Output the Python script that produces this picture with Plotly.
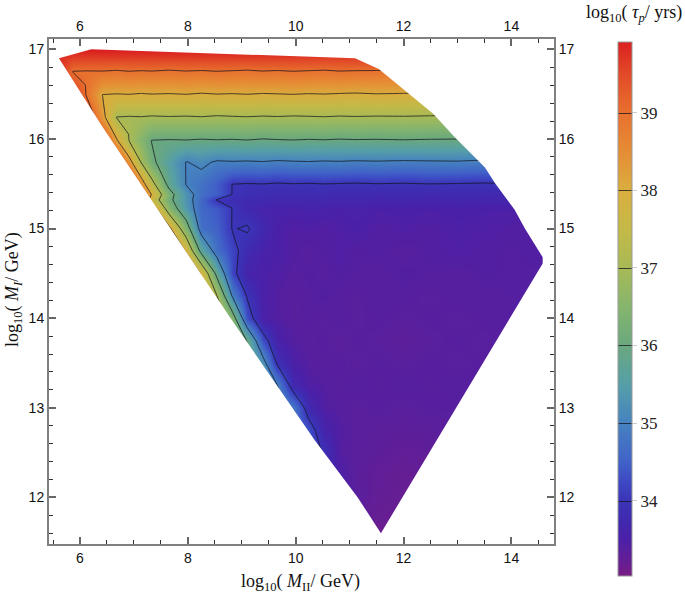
import plotly.graph_objects as go

# axis ranges of the frame
x_range = [5.425, 14.79]
y_range = [11.48, 17.115]
z_min = 33.03
z_max = 39.91

# grid the lifetime was read on
x_grid = [5.5, 5.87, 6.1, 6.42, 6.68, 6.9, 7.13, 7.33, 7.65, 7.97, 8.25, 8.54, 8.83, 9.1,
          9.39, 9.66, 9.95, 10.24, 10.53, 10.81, 11.1, 11.5, 12, 12.5, 13, 13.5, 14, 14.8]
y_grid = [17.1, 16.9, 16.75, 16.49, 16.24, 15.98, 15.74, 15.49, 15.38, 15.32, 15.23, 15.0, 14.75, 14.5,
          14.25, 14.0, 13.75, 13.5, 13.25, 13.0, 12.75, 12.5, 12.25, 12.0, 11.5]

# log10(tau_p), one row per y_grid entry, top row first
tau_rows = [
    [40.3, 40.3, 40.3, 40.3, 40.3, 40.3, 40.3, 40.3, 40.3, 40.3, 40.3, 40.3, 40.3, 40.3,
     40.3, 40.3, 40.3, 40.3, 40.3, 40.3, 40.3, 40.3, 40.3, 40.3, 40.3, 40.3, 40.3, 40.3],
    [39.8, 39.6, 39.6, 39.6, 39.6, 39.6, 39.6, 39.6, 39.6, 39.6, 39.6, 39.6, 39.6, 39.6,
     39.6, 39.6, 39.6, 39.6, 39.6, 39.6, 39.6, 39.6, 39.6, 39.6, 39.6, 39.6, 39.6, 39.6],
    [40.2, 38.98, 38.96, 38.97, 38.93, 38.98, 38.95, 38.97, 38.92, 38.97, 38.94, 38.98, 38.95, 38.92,
     38.97, 38.94, 38.98, 38.95, 38.92, 38.97, 38.95, 38.94, 38.92, 38.9, 38.88, 38.88, 38.88, 38.88],
    [40.9, 39.8, 39.03, 37.98, 37.95, 37.97, 37.93, 37.96, 37.94, 37.97, 37.92, 37.96, 37.94, 37.97,
     37.93, 37.95, 37.97, 37.94, 37.96, 37.93, 37.91, 37.95, 37.93, 37.9, 37.9, 37.9, 37.9, 37.9],
    [41.2, 40.6, 39.9, 38.25, 36.98, 36.95, 36.97, 36.93, 36.96, 36.94, 36.97, 36.92, 36.95, 36.97,
     36.94, 36.96, 36.93, 36.95, 36.97, 36.94, 36.96, 36.94, 36.95, 36.93, 36.9, 36.9, 36.9, 36.9],
    [41.6, 41.2, 40.6, 39.6, 38.1, 37.02, 36.5, 35.98, 35.95, 35.97, 35.93, 35.96, 35.94, 35.97,
     35.92, 35.95, 35.97, 35.94, 35.96, 35.93, 35.95, 35.94, 35.96, 35.94, 35.93, 35.9, 35.9, 35.9],
    [42.0, 41.8, 41.4, 40.8, 39.6, 38.4, 37.0, 36.15, 35.55, 34.98, 35.12, 34.93, 34.96, 34.94,
     34.97, 34.92, 34.95, 34.97, 34.94, 34.96, 34.93, 34.95, 34.92, 34.94, 34.95, 34.9, 34.9, 34.9],
    [42.5, 42.3, 42.0, 41.5, 41.0, 40.0, 38.5, 37.3, 35.8, 34.98, 34.75, 34.45, 33.98, 33.95,
     33.97, 33.93, 33.96, 33.94, 33.97, 33.95, 33.93, 33.96, 33.94, 33.97, 33.95, 33.93, 33.95, 33.9],
    [42.5, 42.4, 42.2, 41.8, 41.3, 40.5, 39.3, 37.95, 36.3, 35.3, 34.7, 34.45, 33.98, 33.85,
     33.8, 33.78, 33.75, 33.78, 33.76, 33.74, 33.75, 33.72, 33.74, 33.72, 33.74, 33.72, 33.72, 33.7],
    [42.5, 42.4, 42.2, 41.8, 41.3, 40.5, 39.1, 37.6, 36.2, 35.3, 34.6, 33.97, 33.82, 33.75,
     33.72, 33.7, 33.68, 33.7, 33.68, 33.66, 33.68, 33.64, 33.66, 33.64, 33.66, 33.64, 33.64, 33.62],
    [42.5, 42.5, 42.3, 42.0, 41.5, 41.0, 40.0, 38.5, 36.5, 35.4, 34.6, 34.4, 33.98, 33.7,
     33.6, 33.58, 33.55, 33.6, 33.55, 33.52, 33.55, 33.5, 33.52, 33.5, 33.52, 33.5, 33.5, 33.5],
    [42.5, 42.5, 42.3, 42.0, 41.5, 41.0, 40.3, 39.7, 38.2, 36.4, 34.7, 34.5, 33.97, 34.06,
     33.7, 33.5, 33.42, 33.45, 33.42, 33.45, 33.5, 33.42, 33.45, 33.42, 33.48, 33.45, 33.42, 33.45],
    [42.0, 42.0, 42.0, 42.0, 41.5, 41.0, 40.5, 40.0, 39.2, 37.9, 35.75, 34.7, 34.17, 33.75,
     33.55, 33.5, 33.42, 33.38, 33.42, 33.45, 33.4, 33.42, 33.38, 33.42, 33.45, 33.42, 33.4, 33.45],
    [41.5, 41.5, 41.5, 41.5, 41.5, 41.2, 41.0, 40.6, 40.0, 39.0, 37.9, 35.75, 34.15, 33.6,
     33.5, 33.45, 33.38, 33.42, 33.38, 33.42, 33.4, 33.38, 33.42, 33.4, 33.38, 33.42, 33.4, 33.4],
    [41.0, 41.0, 41.0, 41.0, 41.0, 41.0, 41.0, 40.8, 40.5, 39.8, 38.6, 37.0, 34.9, 33.95,
     33.5, 33.4, 33.35, 33.4, 33.42, 33.38, 33.35, 33.4, 33.38, 33.35, 33.4, 33.38, 33.4, 33.4],
    [40.5, 40.5, 40.5, 40.5, 40.5, 40.5, 40.5, 40.2, 39.8, 39.2, 38.5, 37.6, 36.4, 34.3,
     33.5, 33.42, 33.35, 33.38, 33.35, 33.4, 33.35, 33.38, 33.35, 33.38, 33.35, 33.38, 33.4, 33.4],
    [39.5, 39.5, 39.5, 39.5, 39.5, 39.5, 39.5, 39.5, 39.2, 39.0, 38.0, 37.4, 36.9, 35.95,
     34.25, 33.55, 33.4, 33.35, 33.38, 33.32, 33.38, 33.35, 33.3, 33.35, 33.38, 33.35, 33.4, 33.4],
    [38.5, 38.5, 38.5, 38.5, 38.5, 38.5, 38.5, 38.5, 38.2, 38.0, 37.6, 37.0, 36.8, 36.3,
     35.3, 33.9, 33.5, 33.38, 33.36, 33.38, 33.34, 33.38, 33.35, 33.38, 33.35, 33.38, 33.38, 33.4],
    [37.5, 37.5, 37.5, 37.5, 37.5, 37.5, 37.5, 37.5, 37.2, 37.0, 36.9, 36.7, 36.5, 36.0,
     35.8, 35.0, 33.7, 33.45, 33.4, 33.36, 33.4, 33.36, 33.4, 33.36, 33.4, 33.36, 33.38, 33.4],
    [36.5, 36.5, 36.5, 36.5, 36.5, 36.5, 36.5, 36.5, 36.2, 36.0, 36.0, 36.0, 36.0, 35.8,
     35.6, 35.2, 34.8, 33.7, 33.42, 33.38, 33.34, 33.38, 33.34, 33.38, 33.36, 33.38, 33.38, 33.35],
    [35.8, 35.8, 35.8, 35.8, 35.8, 35.8, 35.8, 35.8, 35.8, 35.8, 35.8, 35.8, 35.6, 35.4,
     35.2, 35.0, 34.8, 34.3, 33.6, 33.42, 33.34, 33.32, 33.3, 33.32, 33.34, 33.35, 33.35, 33.35],
    [35.0, 35.0, 35.0, 35.0, 35.0, 35.0, 35.0, 35.0, 35.0, 35.0, 35.0, 35.0, 35.0, 35.0,
     35.0, 34.8, 34.6, 34.5, 33.9, 33.4, 33.34, 33.3, 33.26, 33.28, 33.3, 33.3, 33.3, 33.3],
    [34.0, 34.0, 34.0, 34.0, 34.0, 34.0, 34.0, 34.0, 34.0, 34.0, 34.0, 34.0, 34.0, 34.0,
     33.9, 33.9, 33.9, 33.8, 33.7, 33.5, 33.32, 33.26, 33.22, 33.24, 33.25, 33.3, 33.3, 33.3],
    [33.7, 33.7, 33.7, 33.7, 33.7, 33.7, 33.7, 33.7, 33.7, 33.7, 33.7, 33.7, 33.7, 33.7,
     33.7, 33.7, 33.7, 33.6, 33.6, 33.5, 33.35, 33.25, 33.2, 33.2, 33.25, 33.3, 33.3, 33.3],
    [33.2, 33.2, 33.2, 33.2, 33.2, 33.2, 33.2, 33.2, 33.2, 33.2, 33.2, 33.2, 33.2, 33.2,
     33.2, 33.2, 33.2, 33.2, 33.2, 33.2, 33.2, 33.15, 33.15, 33.2, 33.2, 33.2, 33.2, 33.2],
]

# outline of the allowed region
boundary_x = [5.61, 6.21, 11.10, 11.54, 12.06, 12.55, 12.95, 13.38, 13.51, 13.69, 14.06, 14.25,
              14.58, 14.58, 11.58, 11.15, 10.35, 8.78, 7.16, 6.40]
boundary_y = [16.90, 17.0, 16.90, 16.78, 16.52, 16.28, 16.02, 15.76, 15.68, 15.51, 15.21, 15.0,
              14.68, 14.61, 11.60, 12.0, 12.64, 14.01, 15.46, 16.15]

# colours
bar_values = [33.03, 33.25, 33.5, 33.75, 34, 34.25, 34.5, 35, 35.5, 36, 36.5, 37, 37.5, 38, 38.5, 39, 39.5, 39.91]
bar_colors = ["#781C86", "#621E96", "#4B20A8", "#402AB0", "#3B34B8", "#3E4AC4", "#4062C8", "#4682C0",
              "#569FA8", "#6AA87E", "#86B56E", "#A8BA55", "#C4B948", "#DAAE3E", "#E68C35", "#E8702E",
              "#E24A28", "#DB2020"]
colorscale = [[(v - z_min) / (z_max - z_min), c] for v, c in zip(bar_values, bar_colors)]

fig = go.Figure()

fig.add_trace(go.Contour(
    x=x_grid,
    y=y_grid[::-1],
    z=tau_rows[::-1],
    zmin=z_min,
    zmax=z_max,
    colorscale=colorscale,
    autocontour=False,
    contours=dict(start=34, end=39, size=1, coloring="heatmap"),
    line=dict(color="rgba(20,20,30,0.75)", width=1, smoothing=0),
    hoverinfo="skip",
    colorbar=dict(
        x=(618 - 49) / 505,
        xanchor="left",
        y=(544 - 576) / 505,
        yanchor="bottom",
        len=534,
        lenmode="pixels",
        thickness=14,
        xpad=0,
        ypad=0,
        outlinecolor="#999999",
        outlinewidth=1,
        tickvals=[34, 35, 36, 37, 38, 39],
        ticks="outside",
        ticklen=5,
        tickcolor="#cccccc",
        tickfont=dict(family="Liberation Serif", size=17, color="#222222"),
    ),
))

# white everywhere outside the allowed region
mask_x = [x_range[0], x_range[1], x_range[1], x_range[0], x_range[0]] + boundary_x + [boundary_x[0], x_range[0]]
mask_y = [y_range[0], y_range[0], y_range[1], y_range[1], y_range[0]] + boundary_y + [boundary_y[0], y_range[0]]
fig.add_trace(go.Scatter(
    x=mask_x, y=mask_y, mode="lines", fill="toself", fillcolor="white",
    line=dict(width=0), hoverinfo="skip", showlegend=False,
))

# only there so the top and right axes get drawn
fig.add_trace(go.Scatter(
    x=x_range, y=y_range, xaxis="x2", yaxis="y2", mode="markers",
    marker=dict(opacity=0), hoverinfo="skip", showlegend=False,
))

tick_font = dict(family="Liberation Sans", size=14, color="#111111")
x_style = dict(
    range=x_range, tick0=6, dtick=2, ticks="inside", ticklen=7, tickwidth=2, tickcolor="#666666",
    minor=dict(dtick=0.5, tick0=6, ticks="inside", ticklen=4, tickwidth=1, tickcolor="#333333"),
    showgrid=False, zeroline=False, showline=True, linecolor="#808080", linewidth=2, tickfont=tick_font,
    automargin=False,
)
y_style = dict(
    range=y_range, tick0=12, dtick=1, ticks="inside", ticklen=7, tickwidth=2, tickcolor="#666666",
    minor=dict(dtick=0.2, tick0=12, ticks="inside", ticklen=4, tickwidth=1, tickcolor="#333333"),
    showgrid=False, zeroline=False, showline=True, linecolor="#808080", linewidth=2, tickfont=tick_font,
    automargin=False,
)
title_font = dict(family="Liberation Serif", size=18, color="#111111")

fig.update_layout(
    width=685,
    height=612,
    autosize=False,
    margin=dict(l=49, r=131, t=39, b=68),
    paper_bgcolor="white",
    plot_bgcolor="white",
    showlegend=False,
    xaxis=x_style,
    yaxis=y_style,
    xaxis2=dict(x_style, overlaying="x", side="top", anchor="y"),
    yaxis2=dict(y_style, overlaying="y", side="right", anchor="x"),
    annotations=[
        dict(text="log<sub>10</sub>( <i>M</i><sub>II</sub>/ GeV)", xref="paper", yref="paper",
             x=(300 - 49) / 505, y=(544 - 582) / 505, xanchor="center", yanchor="middle",
             showarrow=False, font=title_font),
        dict(text="log<sub>10</sub>( <i>M<sub>I</sub></i>/ GeV)", xref="paper", yref="paper",
             x=(13 - 49) / 505, y=(544 - 290) / 505, xanchor="center", yanchor="middle",
             showarrow=False, textangle=-90, font=title_font),
        dict(text="log<sub>10</sub>( <i>τ<sub>p</sub></i>/ yrs)", xref="paper", yref="paper",
             x=(634 - 49) / 505, y=(544 - 14) / 505, xanchor="center", yanchor="middle",
             showarrow=False, font=dict(family="Liberation Serif", size=18, color="#111111")),
    ],
)

# drop the default body margin so the figure fills the window
fig.write_html("out.html", config={"displayModeBar": False}, post_script="document.body.style.margin='0';")
